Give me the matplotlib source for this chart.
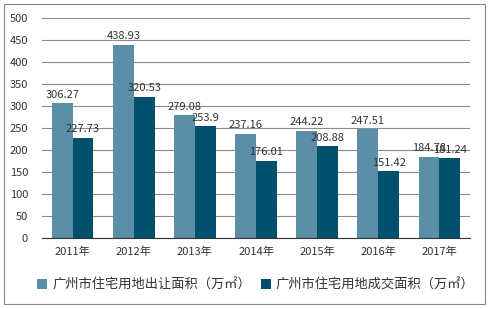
import matplotlib
matplotlib.use('Agg')
import matplotlib.pyplot as plt
import numpy as np
from matplotlib.patches import Rectangle

plt.rcParams['font.family'] = ['Noto Sans CJK SC', 'DejaVu Sans']

years = ['2011年', '2012年', '2013年', '2014年', '2015年', '2016年', '2017年']
supply = [306.27, 438.93, 279.08, 237.16, 244.22, 247.51, 184.78]
deal = [227.73, 320.53, 253.9, 176.01, 208.88, 151.42, 181.24]
yticks = [0, 50, 100, 150, 200, 250, 300, 350, 400, 450, 500]
names = ['广州市住宅用地出让面积（万㎡）', '广州市住宅用地成交面积（万㎡）']

c1 = '#5B8FA8'
c2 = '#00506E'

fig = plt.figure(figsize=(4.89, 3.09), dpi=100)
fig.patches.append(Rectangle((4/489, 5/309), 481/489, 300/309, transform=fig.transFigure,
                             fill=False, edgecolor='#888888', linewidth=0.8))
ax = fig.add_axes([42/489, 71/309, 428/489, 220/309])

x = np.arange(len(years))
w = 0.34
b1 = ax.bar(x - w/2, supply, w, color=c1, label=names[0], zorder=2)
b2 = ax.bar(x + w/2, deal, w, color=c2, label=names[1], zorder=2)

for rect, v in zip(b1, supply):
    ax.text(rect.get_x() + rect.get_width()/2, v + 8, f'{v:g}', ha='center', va='bottom',
            fontsize=8, color='#333333')
for rect, v in zip(b2, deal):
    ax.text(rect.get_x() + rect.get_width()/2, v + 8, f'{v:g}', ha='center', va='bottom',
            fontsize=8, color='#333333')

ax.set_xlim(-0.5, len(years) - 0.5)
ax.set_ylim(0, 500)
ax.set_yticks(yticks)
ax.set_xticks(x)
ax.set_xticklabels(years)
ax.tick_params(axis='both', length=0, labelsize=8, colors='#333333')
ax.tick_params(axis='y', pad=10)
ax.tick_params(axis='x', pad=6)
ax.yaxis.grid(True, color='#8c8c8c', linewidth=0.8, zorder=0)
ax.set_axisbelow(True)
for s in ['top', 'left', 'right']:
    ax.spines[s].set_visible(False)
ax.spines['bottom'].set_color('#333333')

ax.legend(loc='upper center', bbox_to_anchor=(0.5, -0.13), ncol=2, frameon=False,
          fontsize=9.5, handlelength=0.7, handleheight=0.7, columnspacing=0.8,
          handletextpad=0.4, labelcolor='#333333')

fig.savefig('out.png', dpi=100)
